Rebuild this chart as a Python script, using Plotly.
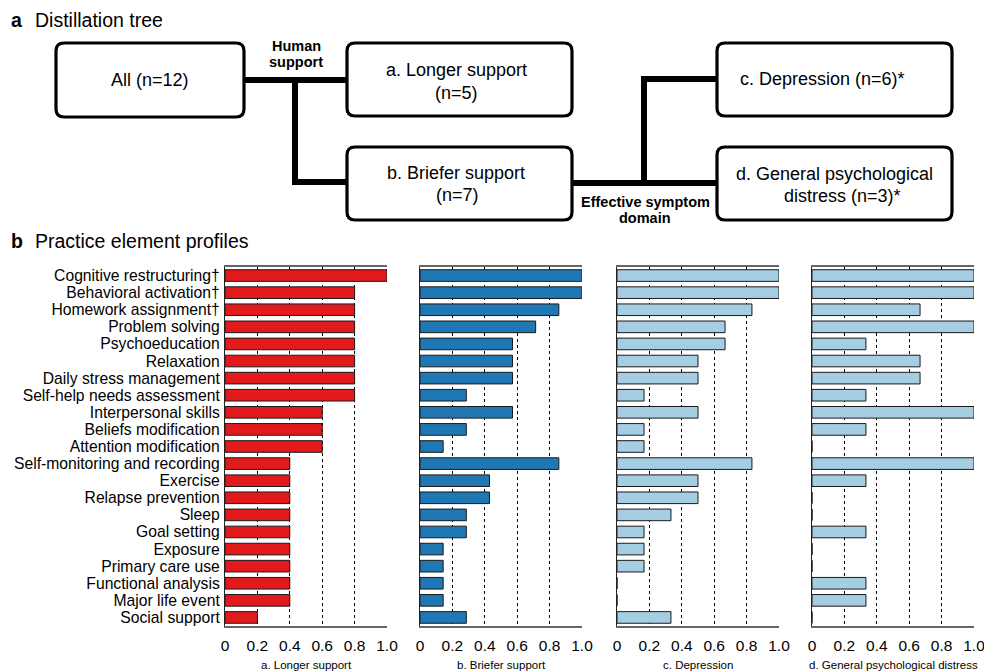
import plotly.graph_objects as go

W, H = 984, 671
FONT = "Liberation Sans, Arial, Helvetica, sans-serif"

categories = [
    "Cognitive restructuring†", "Behavioral activation†", "Homework assignment†",
    "Problem solving", "Psychoeducation", "Relaxation", "Daily stress management",
    "Self-help needs assessment", "Interpersonal skills", "Beliefs modification",
    "Attention modification", "Self-monitoring and recording", "Exercise",
    "Relapse prevention", "Sleep", "Goal setting", "Exposure", "Primary care use",
    "Functional analysis", "Major life event", "Social support",
]
longer = [1.0, 0.8, 0.8, 0.8, 0.8, 0.8, 0.8, 0.8, 0.6, 0.6, 0.6,
          0.4, 0.4, 0.4, 0.4, 0.4, 0.4, 0.4, 0.4, 0.4, 0.2]
briefer = [1.0, 1.0, 0.857, 0.714, 0.571, 0.571, 0.571, 0.286, 0.571, 0.286, 0.143,
           0.857, 0.429, 0.429, 0.286, 0.286, 0.143, 0.143, 0.143, 0.143, 0.286]
depression = [1.0, 1.0, 0.833, 0.667, 0.667, 0.5, 0.5, 0.167, 0.5, 0.167, 0.167,
              0.833, 0.5, 0.5, 0.333, 0.167, 0.167, 0.167, 0.0, 0.0, 0.333]
general = [1.0, 1.0, 0.667, 1.0, 0.333, 0.667, 0.667, 0.333, 1.0, 0.333, 0.0,
           1.0, 0.333, 0.0, 0.0, 0.333, 0.0, 0.0, 0.333, 0.333, 0.0]

panel_titles = ["a. Longer support", "b. Briefer support", "c. Depression",
                "d. General psychological distress"]
panel_values = [longer, briefer, depression, general]
panel_colors = ["#E31A1C", "#1F78B4", "#A6CEE3", "#A6CEE3"]
tick_vals = [0, 0.2, 0.4, 0.6, 0.8, 1.0]
tick_text = ["0", "0.2", "0.4", "0.6", "0.8", "1.0"]

# layout geometry (pixels)
panel_px = [(225, 387), (420, 582), (617, 779), (812, 974)]
plot_top, plot_bot = 267, 626


def X(p):
    return p / W


def Y(p):
    return 1 - p / H


fig = go.Figure()
layout = dict(
    width=W, height=H, margin=dict(l=0, r=0, t=0, b=0, autoexpand=False),
    paper_bgcolor="white", plot_bgcolor="white", showlegend=False,
    font=dict(family=FONT, color="black"),
)

for i, (vals, col, (x0, x1)) in enumerate(zip(panel_values, panel_colors, panel_px)):
    n = "" if i == 0 else str(i + 1)
    fig.add_trace(go.Bar(
        x=vals, y=categories, orientation="h", xaxis="x" + n, yaxis="y" + n,
        marker=dict(color=col, line=dict(color="#1a1a1a", width=1)),
        width=0.68, hoverinfo="x+y",
    ))
    layout["xaxis" + n] = dict(
        domain=[X(x0), X(x1)], anchor="y" + n, range=[0, 1.0],
        tickmode="array", tickvals=tick_vals, ticktext=tick_text, showgrid=True,
        gridcolor="black", gridwidth=1, griddash="3px,3px", zeroline=False,
        showline=True, linecolor="#666", linewidth=1.5, mirror=True,
        ticks="", tickfont=dict(size=15.5, family=FONT), ticklabelstandoff=5,
        ticklabeloverflow="allow", automargin=False, fixedrange=True,
    )
    layout["yaxis" + n] = dict(
        domain=[Y(plot_bot), Y(plot_top)], anchor="x" + n, type="category",
        categoryorder="array", categoryarray=categories,
        tickmode="array", tickvals=categories, ticktext=categories,
        range=[20.5, -0.5], showticklabels=(i == 0), ticks="",
        tickfont=dict(size=15.7, family=FONT), ticklabelstandoff=1,
        showline=True, linecolor="#222", linewidth=1.2, mirror=False,
        showgrid=False, zeroline=False, automargin=False, fixedrange=True,
    )

annotations = []
for title, (x0, x1) in zip(panel_titles, panel_px):
    annotations.append(dict(
        x=X((x0 + x1) / 2), y=Y(665), xref="paper", yref="paper",
        text=title, showarrow=False, font=dict(size=11.5, family=FONT),
        xanchor="center", yanchor="middle"))

# section headings
for lab, txt, yy in [("a", "Distillation tree", 20), ("b", "Practice element profiles", 241)]:
    annotations.append(dict(x=X(9), y=Y(yy), xref="paper", yref="paper",
                            text="<b>" + lab + "</b>", showarrow=False,
                            font=dict(size=19.5, family=FONT),
                            xanchor="left", yanchor="middle"))
    annotations.append(dict(x=X(33), y=Y(yy), xref="paper", yref="paper",
                            text=txt, showarrow=False,
                            font=dict(size=19.5, family=FONT),
                            xanchor="left", yanchor="middle"))

# distillation tree boxes: (x0, y0, x1, y1, [(text, cx, cy)])
boxes = [
    (56, 43, 244, 117, [("All (n=12)", 150, 80)]),
    (347, 43, 572, 116, [("a. Longer support", 456, 70), ("(n=5)", 456, 93)]),
    (347, 147, 572, 220, [("b. Briefer support", 456, 173), ("(n=7)", 457, 195)]),
    (717, 43, 952, 116, [("c. Depression (n=6)*", 822, 79)]),
    (717, 147, 952, 220, [("d. General psychological", 834, 174), ("distress (n=3)*", 842, 196)]),
]
connectors = [
    [(244, 80), (347, 80)],
    [(295, 80), (295, 182), (347, 182)],
    [(572, 183), (717, 183)],
    [(644, 183), (644, 79), (717, 79)],
]
branch_labels = [
    ("<b>Human</b>", 296, 46), ("<b>support</b>", 296, 62),
    ("<b>Effective symptom</b>", 645, 202), ("<b>domain</b>", 645, 218),
]


def rounded_rect(x0, y0, x1, y1, r=8):
    pts = []
    pts.append(f"M {X(x0 + r)},{Y(y0)}")
    pts.append(f"L {X(x1 - r)},{Y(y0)}")
    pts.append(f"Q {X(x1)},{Y(y0)} {X(x1)},{Y(y0 + r)}")
    pts.append(f"L {X(x1)},{Y(y1 - r)}")
    pts.append(f"Q {X(x1)},{Y(y1)} {X(x1 - r)},{Y(y1)}")
    pts.append(f"L {X(x0 + r)},{Y(y1)}")
    pts.append(f"Q {X(x0)},{Y(y1)} {X(x0)},{Y(y1 - r)}")
    pts.append(f"L {X(x0)},{Y(y0 + r)}")
    pts.append(f"Q {X(x0)},{Y(y0)} {X(x0 + r)},{Y(y0)}")
    pts.append("Z")
    return " ".join(pts)


shapes = []
for pts in connectors:
    path = "M " + " L ".join(f"{X(a)},{Y(b)}" for a, b in pts)
    shapes.append(dict(type="path", xref="paper", yref="paper", path=path,
                       line=dict(color="black", width=6)))
for x0, y0, x1, y1, texts in boxes:
    shapes.append(dict(type="path", xref="paper", yref="paper",
                       path=rounded_rect(x0, y0, x1, y1),
                       line=dict(color="black", width=3.2), fillcolor="white"))
    for t, cx, cy in texts:
        annotations.append(dict(x=X(cx), y=Y(cy), xref="paper", yref="paper",
                                text=t, showarrow=False,
                                font=dict(size=18, family=FONT),
                                xanchor="center", yanchor="middle"))
for t, cx, cy in branch_labels:
    annotations.append(dict(x=X(cx), y=Y(cy), xref="paper", yref="paper",
                            text=t, showarrow=False,
                            font=dict(size=14.5, family=FONT),
                            xanchor="center", yanchor="middle"))

layout["annotations"] = annotations
layout["shapes"] = shapes
fig.update_layout(**layout)
fig.write_html(
    "out.html",
    config={"displayModeBar": False, "displaylogo": False},
    post_script="document.body.style.margin='0';document.body.style.overflow='hidden';",
)
